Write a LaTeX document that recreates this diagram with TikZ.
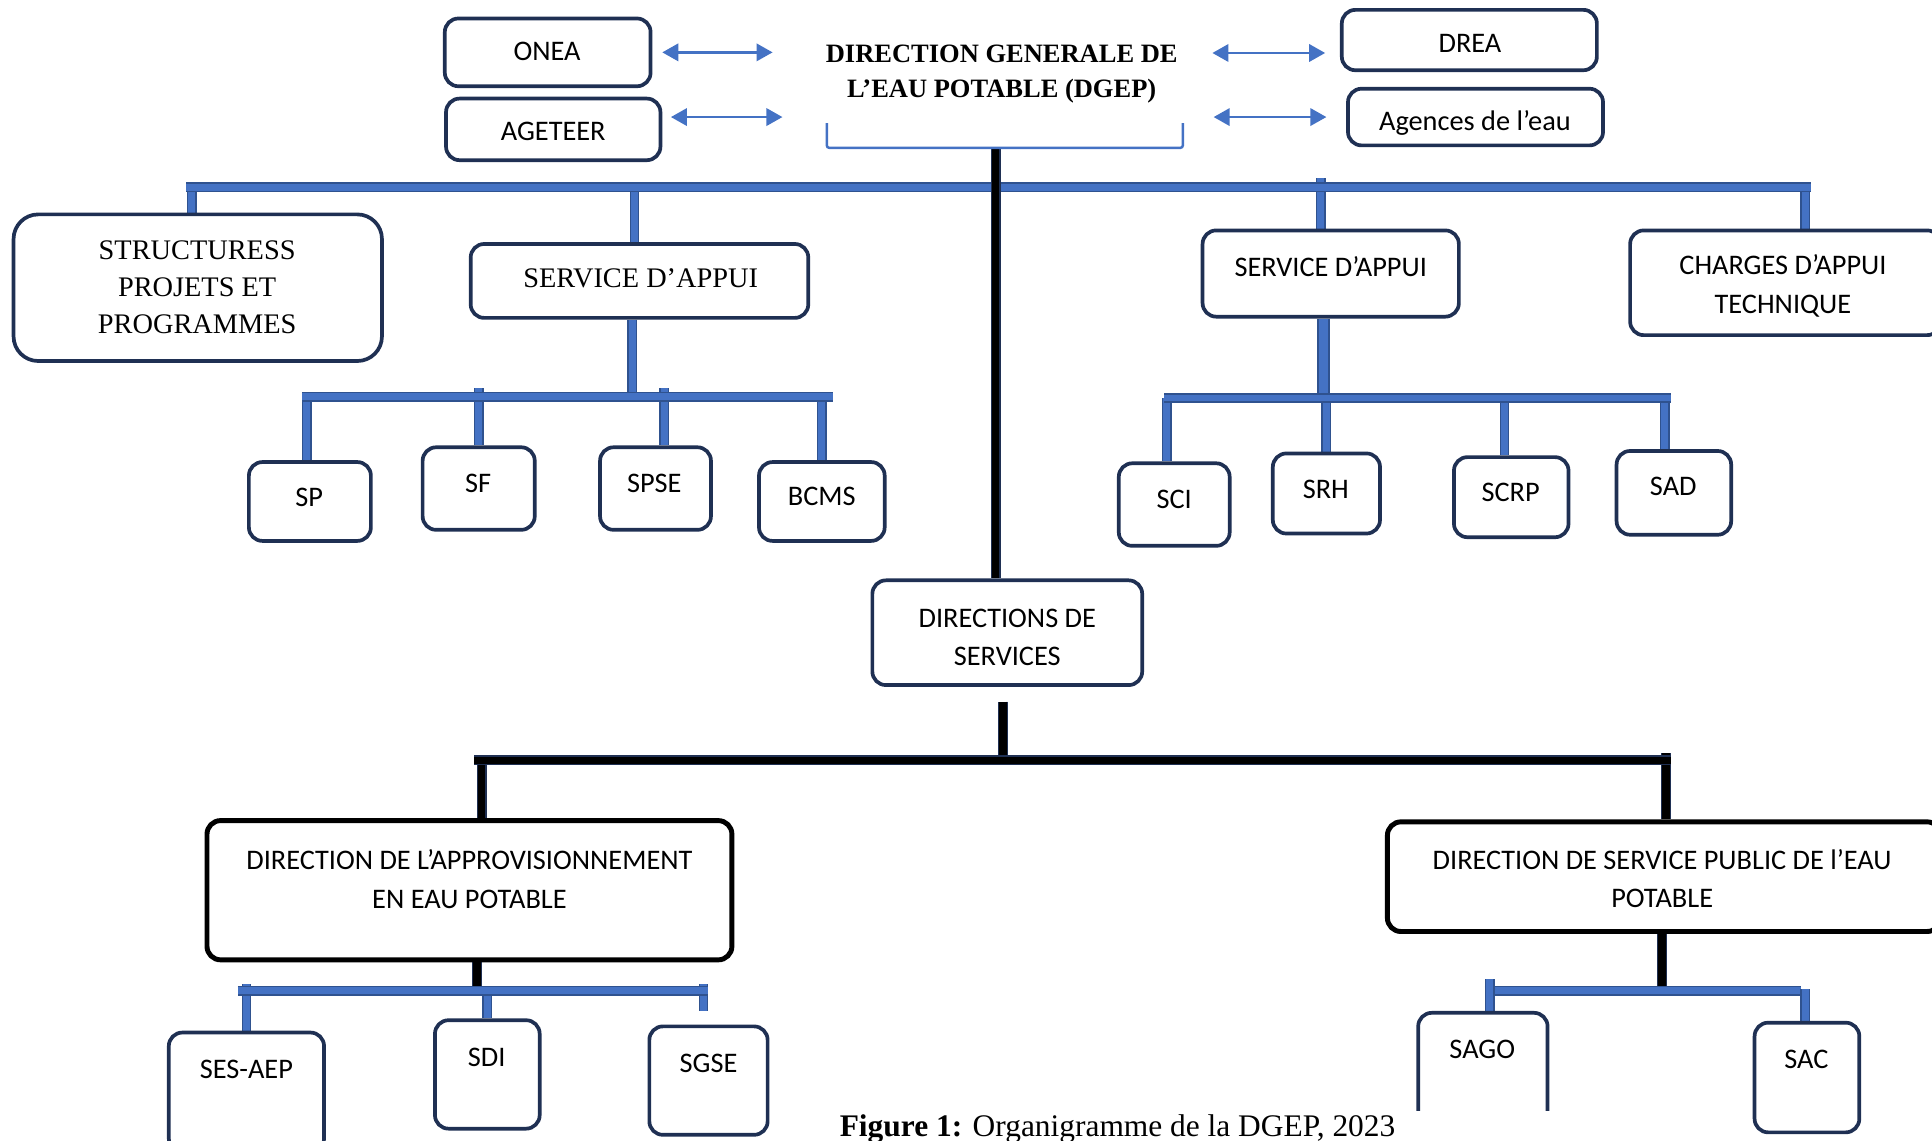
\documentclass[tikz,border=0pt]{standalone}
\usepackage{fontspec}
\setmainfont{Liberation Serif}
\newfontfamily\carl{Carlito}
\usetikzlibrary{arrows.meta}
\definecolor{navy}{HTML}{1F3053}
\definecolor{barblue}{HTML}{4472C4}
\definecolor{barline}{HTML}{2F528F}
\pgfdeclarelayer{bg}
\pgfsetlayers{bg,main}
\newcommand\obox[8][]{%
  \node[box,minimum width=#4pt,minimum height=#5pt,#1] (#2) at (#3) {};
  \node[#6] (#2-t) at (#7) {#8};}
\begin{document}
\begin{tikzpicture}[x=1pt,y=-1pt,
  box/.style={draw=navy, line width=3pt, rounded corners=11pt, fill=white, inner sep=0pt},
  kbox/.style={draw=black, line width=4pt},
  sans/.style={font=\carl\fontsize{23pt}{31pt}\selectfont, align=center, inner sep=0pt},
  serif/.style={font=\fontsize{23pt}{30pt}\selectfont, align=center, inner sep=0pt},
  dgeps/.style={font=\bfseries\fontsize{21.5pt}{28pt}\selectfont, align=center, inner sep=0pt},
  bbar/.style={draw=barline, line width=1.2pt, double=barblue, double distance=5.6pt},
  kbar/.style={draw=navy, line width=1pt, double=black, double distance=6pt},
  biarrow/.style={draw=barblue, line width=2.2pt, {Triangle[length=13pt,width=14pt]}-{Triangle[length=13pt,width=14pt]}}]
\useasboundingbox (0,0) rectangle (1568,926);
\clip (0,0) rectangle (1568,926);

% top level
\obox{onea}{444.5,42.5}{167}{55}{sans}{444,42}{ONEA}
\obox{agt}{449,105}{174}{50}{sans}{449,107}{AGETEER}
\obox{drea}{1192.5,32.5}{207}{49}{sans}{1193,35}{DREA}
\obox{agc}{1197.5,95}{207}{46}{sans,anchor=base}{1197,106}{Agences de l’eau}
\node[dgeps] (dgep) at (813,60) {DIRECTION GENERALE DE\\L’EAU POTABLE (DGEP)};
\draw[barblue, line width=2pt, rounded corners=2pt] (671,100) -- (671,120) -- (960,120) -- (960,100);
\coordinate (brk) at (808,120);

\draw[biarrow, shorten <=8pt, shorten >=43pt] (onea.east) -- (onea.east -| dgep.west);
\draw[biarrow, shorten <=7pt, shorten >=35pt] ([yshift=10pt]agt.east) -- ([yshift=10pt]agt.east -| dgep.west);
\draw[biarrow, shorten <=28pt, shorten >=12pt] ([yshift=-10.5pt]drea.west -| dgep.east) -- ([yshift=-10.5pt]drea.west);
\draw[biarrow, shorten <=29pt, shorten >=16pt] (agc.west -| dgep.east) -- (agc.west);

% second level
\obox[rounded corners=20pt]{str}{160.5,233.5}{299}{119}{serif}{160,233.5}{STRUCTURESS\\PROJETS ET\\PROGRAMMES}
\obox{sal}{519,228}{274}{60}{serif}{520,226}{SERVICE D’APPUI}
\obox{sar}{1080,222}{208}{70}{sans}{1080,216}{SERVICE D’APPUI}
\obox{cha}{1449,229.5}{252}{85}{sans}{1447,232}{CHARGES D’APPUI\\TECHNIQUE}

% services
\obox{sp}{251.5,407}{99}{64}{sans}{251,404}{SP}
\obox{sf}{388.5,396.5}{91}{67}{sans}{388,392}{SF}
\obox{spse}{532,396.5}{90}{67}{sans}{531,392}{SPSE}
\obox{bcms}{667,407}{102}{64}{sans}{667,403}{BCMS}
\obox{sci}{953,409.5}{90}{67}{sans}{953,405}{SCI}
\obox{srh}{1076.5,400.5}{87}{65}{sans}{1076,397}{SRH}
\obox{scrp}{1226.5,403.5}{93}{65}{sans}{1226,400}{SCRP}
\obox{sad}{1358.5,400}{93}{68}{sans}{1358,395}{SAD}

% directions
\obox{dirs}{817.5,513.5}{219}{85}{sans}{817.5,517.5}{DIRECTIONS DE\\SERVICES}
\obox[kbox]{daep}{381,722.5}{426}{113}{sans}{381,713.5}{DIRECTION DE L’APPROVISIONNEMENT\\EN EAU POTABLE}
\obox[kbox]{dsp}{1350.5,711.5}{449}{89}{sans}{1349,713}{DIRECTION DE SERVICE PUBLIC DE l’EAU\\POTABLE}

\obox{ses}{200,886.5}{126}{97}{sans}{200,868}{SES-AEP}
\obox{sdi}{395.5,872}{85}{88}{sans}{395,858}{SDI}
\obox{sgse}{575,877}{96}{88}{sans}{575,863}{SGSE}
\begin{scope}
\clip (1140,805) rectangle (1270,901);
\obox{sago}{1203.5,870}{105}{96}{sans}{1203,852}{SAGO}
\end{scope}
\obox{sac}{1466.5,874.5}{85}{89}{sans}{1466,860}{SAC}

\node[anchor=base, font=\fontsize{25.5pt}{30pt}\selectfont, inner sep=0pt] (cap) at (907,922) {\textbf{Figure 1:} Organigramme de la DGEP, 2023};

\begin{pgfonlayer}{bg}
% top bar
\coordinate (tl) at (151,152); \coordinate (tr) at (1470,152);
\draw[bbar] ([xshift=-5pt]str.north) -- ([xshift=-5pt]str.north |- tl);
\draw[bbar] ([xshift=-4pt]sal.north) -- ([xshift=-4pt]sal.north |- tl);
\draw[bbar] ([xshift=-8pt]sar.north) -- ++(0,-41);
\draw[bbar] ([xshift=16pt]cha.north) -- ([xshift=16pt]cha.north |- tl);
\draw[bbar] (tl) -- (tr);
% left sub
\coordinate (bl1) at (245,322); \coordinate (bl2) at (676,322);
\draw[bbar] ([xshift=-6pt]sal.south) -- ([xshift=-6pt]sal.south |- bl1);
\draw[bbar] ([xshift=-2.5pt]sp.north) -- ([xshift=-2.5pt]sp.north |- bl1);
\draw[bbar] (sf.north) -- ++(0,-47);
\draw[bbar] ([xshift=7pt]spse.north) -- ++(0,-47);
\draw[bbar] (bcms.north) -- (bcms.north |- bl1);
\draw[bbar] (bl1) -- (bl2);
% right sub
\coordinate (br1) at (945,323); \coordinate (br2) at (1356,323);
\draw[bbar, double distance=7.6pt] ([xshift=-6pt]sar.south) -- ([xshift=-6pt]sar.south |- br1);
\draw[bbar] ([xshift=-6pt]sci.north) -- ([xshift=-6pt]sci.north |- br1);
\draw[bbar] (srh.north) -- (srh.north |- br1);
\draw[bbar] ([xshift=-5.5pt]scrp.north) -- ([xshift=-5.5pt]scrp.north |- br1);
\draw[bbar] ([xshift=-7.5pt]sad.north) -- ([xshift=-7.5pt]sad.north |- br1);
\draw[bbar] (br1) -- (br2);
% trunk
\draw[kbar] (brk) -- (brk |- dirs.north);
% black bar
\coordinate (kb1) at (385,617); \coordinate (kb2) at (1356,617);
\draw[kbar] ([xshift=-3.5pt,yshift=-12pt]dirs.south) -- ([xshift=-3.5pt]dirs.south |- kb1);
\draw[kbar] ([xshift=10pt]daep.north) -- ([xshift=10pt]daep.north |- kb1);
\draw[kbar] ([xshift=1.5pt]dsp.north) -- ++(0,-54);
\draw[kbar] (kb1) -- (kb2);
% bottom left
\coordinate (bb1) at (193,804); \coordinate (bb2) at (575,804);
\draw[kbar] ([xshift=6pt]daep.south) -- ([xshift=6pt]daep.south |- bb1);
\draw[bbar] (ses.north) -- ++(0,-38);
\draw[bbar] (sdi.north) -- (sdi.north |- bb1);
\draw[bbar] ([xshift=-4pt,yshift=11pt]sgse.north) -- ++(0,-22);
\draw[bbar] (bb1) -- (bb2);
% bottom right
\coordinate (bc1) at (1205,804); \coordinate (bc2) at (1462,804);
\draw[kbar] ([xshift=-1.5pt]dsp.south) -- ([xshift=-1.5pt]dsp.south |- bc1);
\draw[bbar] (bc1) -- (bc2);
\draw[bbar] ([xshift=5.5pt]sago.north) -- ++(0,-26);
\draw[bbar] ([xshift=-1.5pt]sac.north) -- ++(0,-26);
\end{pgfonlayer}
\end{tikzpicture}
\end{document}
